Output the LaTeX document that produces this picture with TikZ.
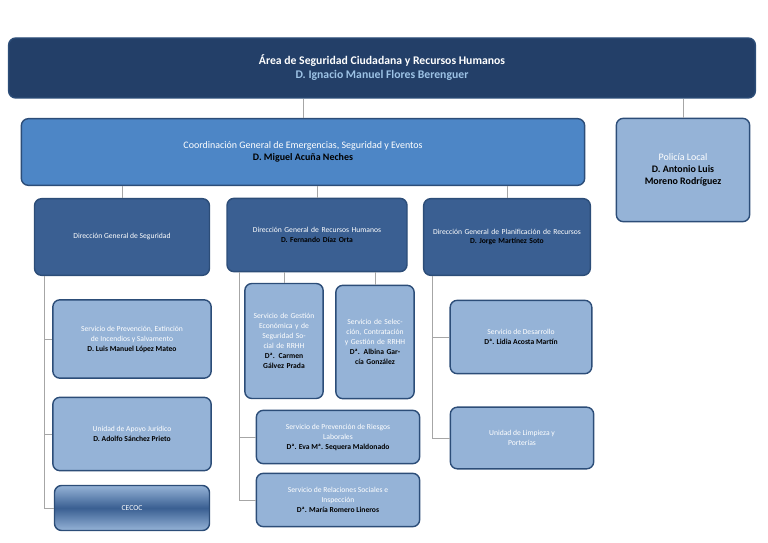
\documentclass[tikz,border=0pt]{standalone}
\usepackage{fontspec}
\setmainfont{Carlito}
\usepackage{xcolor}

\definecolor{navy}{HTML}{233F68}
\definecolor{midblue}{HTML}{4D86C6}
\definecolor{dgblue}{HTML}{3A5F92}
\definecolor{lightblue}{HTML}{95B3D7}
\definecolor{edgeblue}{HTML}{2C4D78}
\definecolor{namecol}{HTML}{9DC3E6}

\begin{document}
\begin{tikzpicture}[
    x=0.03cm, y=-0.03cm,
    box/.style={rectangle, rounded corners=6pt, draw=edgeblue, line width=1.2pt, align=center, inner sep=2pt},
    head/.style={box, fill=navy, text=white, font=\fontsize{10}{12}\selectfont\bfseries},
    coord/.style={box, fill=midblue, text=white, font=\fontsize{8.5}{10.5}\selectfont},
    dg/.style={box, fill=dgblue, text=white, font=\fontsize{6.5}{8.5}\selectfont},
    serv/.style={box, fill=lightblue, text=white, font=\fontsize{6.5}{8.5}\selectfont},
    link/.style={draw=gray!70, line width=0.6pt}
]
\useasboundingbox (0,0) rectangle (768,543);

% Head
\node[head, minimum width=22.4cm, minimum height=1.8cm] (area) at (382,68)
  {Área de Seguridad Ciudadana y Recursos Humanos\\\textcolor{namecol}{D. Ignacio Manuel Flores Berenguer}};

% Second level
\node[coord, minimum width=16.9cm, minimum height=2.0cm] (coord) at (303,152)
  {Coordinación General de Emergencias, Seguridad y Eventos\\\textcolor{black}{\bfseries D. Miguel Acuña Neches}};
\node[serv, font=\fontsize{8.5}{10.5}\selectfont, minimum width=4.0cm, minimum height=3.1cm] (policia) at (683,170)
  {Policía Local\\\textcolor{black}{\bfseries D. Antonio Luis}\\\textcolor{black}{\bfseries Moreno Rodríguez}};

% Direcciones generales
\node[dg, minimum width=5.25cm, minimum height=2.3cm] (dgs) at (122,237)
  {Dirección General de Seguridad};
\node[dg, minimum width=5.4cm, minimum height=2.2cm, text width=4.6cm] (dgrh) at (317,235)
  {Dirección General de Recursos Humanos\\\textcolor{black}{\bfseries D. Fernando Díaz Orta}};
\node[dg, minimum width=5.0cm, minimum height=2.3cm, text width=4.6cm] (dgpr) at (507,237)
  {Dirección General de Planificación de Recursos\\\textcolor{black}{\bfseries D. Jorge Martínez Soto}};

% Seguridad
\node[serv, minimum width=4.75cm, minimum height=2.35cm] (prevext) at (132,339)
  {Servicio de Prevención, Extinción\\de Incendios y Salvamento\\\textcolor{black}{\bfseries D. Luis Manuel López Mateo}};
\node[serv, minimum width=4.75cm, minimum height=2.2cm] (juridico) at (132,434)
  {Unidad de Apoyo Jurídico\\\textcolor{black}{\bfseries D. Adolfo Sánchez Prieto}};
\node[box, top color=lightblue, bottom color=lightblue, middle color=dgblue, text=white,
  font=\fontsize{6.5}{8.5}\selectfont, minimum width=4.65cm, minimum height=1.35cm] (cecoc) at (132,508) {CECOC};

% Recursos Humanos
\node[serv, minimum width=2.35cm, minimum height=3.45cm, text width=2.1cm] (gestion) at (284,341)
  {Servicio de Gestión Económica y de Seguridad Social de RRHH\\\textcolor{black}{\bfseries Dª. Carmen Gálvez Prada}};
\node[serv, minimum width=2.35cm, minimum height=3.4cm, text width=2.0cm] (seleccion) at (375,342)
  {Servicio de Selección, Contratación y Gestión de RRHH\\\textcolor{black}{\bfseries Dª. Albina García González}};
\node[serv, minimum width=4.9cm, minimum height=1.6cm] (riesgos) at (338,437)
  {Servicio de Prevención de Riesgos\\Laborales\\\textcolor{black}{\bfseries Dª. Eva Mª. Sequera Maldonado}};
\node[serv, minimum width=4.9cm, minimum height=1.6cm] (relaciones) at (338,500)
  {Servicio de Relaciones Sociales e\\Inspección\\\textcolor{black}{\bfseries Dª. María Romero Lineros}};

% Planificación
\node[serv, minimum width=4.25cm, minimum height=2.2cm] (desarrollo) at (521,337)
  {Servicio de Desarrollo\\\textcolor{black}{\bfseries Dª. Lidia Acosta Martín}};
\node[serv, minimum width=4.3cm, minimum height=1.85cm] (limpieza) at (522,438)
  {Unidad de Limpieza y\\Porterías};

% Connectors
\draw[link] (area.south -| policia.north) -- (policia.north);
\draw[link] (area.south -| coord.north) -- (coord.north);
\draw[link] (coord.south -| dgs.north) -- (dgs.north);
\draw[link] (coord.south -| dgrh.north) -- (dgrh.north);
\draw[link] (coord.south -| dgpr.north) -- (dgpr.north);

\coordinate (sg) at (44,275);
\draw[link] (dgs.south -| sg) |- (cecoc.west);
\draw[link] (sg |- prevext.west) -- (prevext.west);
\draw[link] (sg |- juridico.west) -- (juridico.west);

\coordinate (rh) at (239,272);
\draw[link] (dgrh.south -| rh) |- (relaciones.west);
\draw[link] (rh |- riesgos.west) -- (riesgos.west);
\draw[link] (dgrh.south -| gestion.north) -- (gestion.north);
\draw[link] (dgrh.south -| seleccion.north) -- (seleccion.north);

\coordinate (pr) at (432,276);
\draw[link] (dgpr.south -| pr) |- (limpieza.west);
\draw[link] (pr |- desarrollo.west) -- (desarrollo.west);

\end{tikzpicture}
\end{document}
